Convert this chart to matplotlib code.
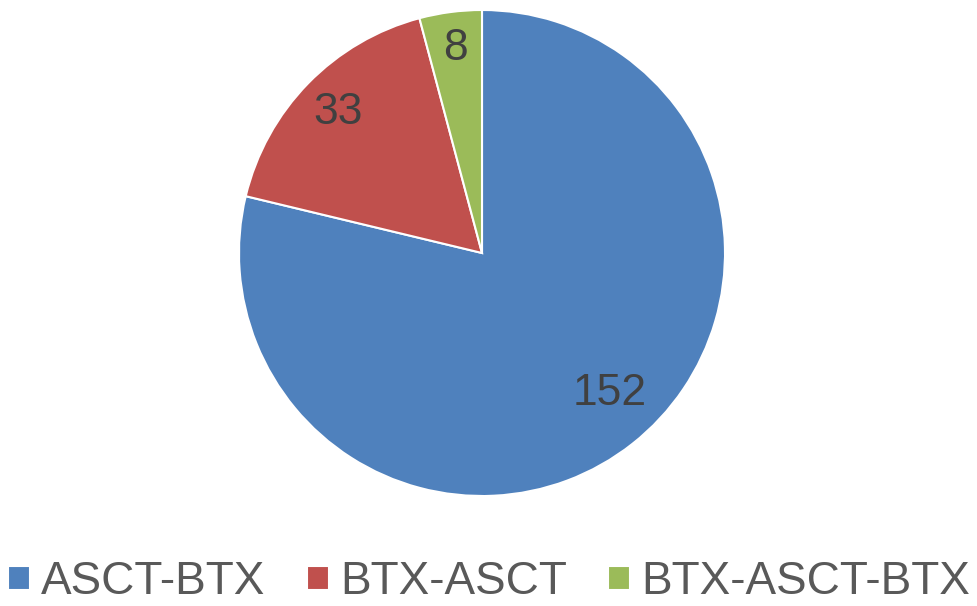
import numpy as np
import matplotlib.pyplot as plt

plt.rcParams['font.family'] = ['Liberation Sans', 'DejaVu Sans']

categories = ["ASCT-BTX", "BTX-ASCT", "BTX-ASCT-BTX"]
counts = [152, 33, 8]
colors = ["#4F81BD", "#C0504D", "#9BBB59"]
label_r = [0.78, 0.83, 0.85]   # radial position of each value label
label_shift = [4, 0, 0]        # small angular nudge (deg) of each label

fig = plt.figure(figsize=(9.78, 6.06), dpi=100)
cx, cy, r = 482, 253, 243
ax = fig.add_axes([(cx - r) / 978, (606 - cy - r) / 606, 2 * r / 978, 2 * r / 606])

wedges, _ = ax.pie(counts, colors=colors, startangle=90, counterclock=False,
                   wedgeprops=dict(edgecolor="white", linewidth=1.5))
ax.set_xlim(-1, 1)
ax.set_ylim(-1, 1)
ax.set_aspect("equal")

for w, v, lr, sh in zip(wedges, counts, label_r, label_shift):
    ang = np.deg2rad((w.theta1 + w.theta2) / 2 + sh)
    ax.text(lr * np.cos(ang), lr * np.sin(ang), str(v), ha="center", va="center",
            fontsize=32, color="#404040")

fig.legend(wedges, categories, loc="center", bbox_to_anchor=(0.5, 1 - 582 / 606),
           ncol=3, frameon=False, fontsize=33, labelcolor="#595959",
           handlelength=0.48, handleheight=0.42, handletextpad=0.24,
           columnspacing=0.9, borderpad=0.1)

fig.savefig("out.png", dpi=100)
